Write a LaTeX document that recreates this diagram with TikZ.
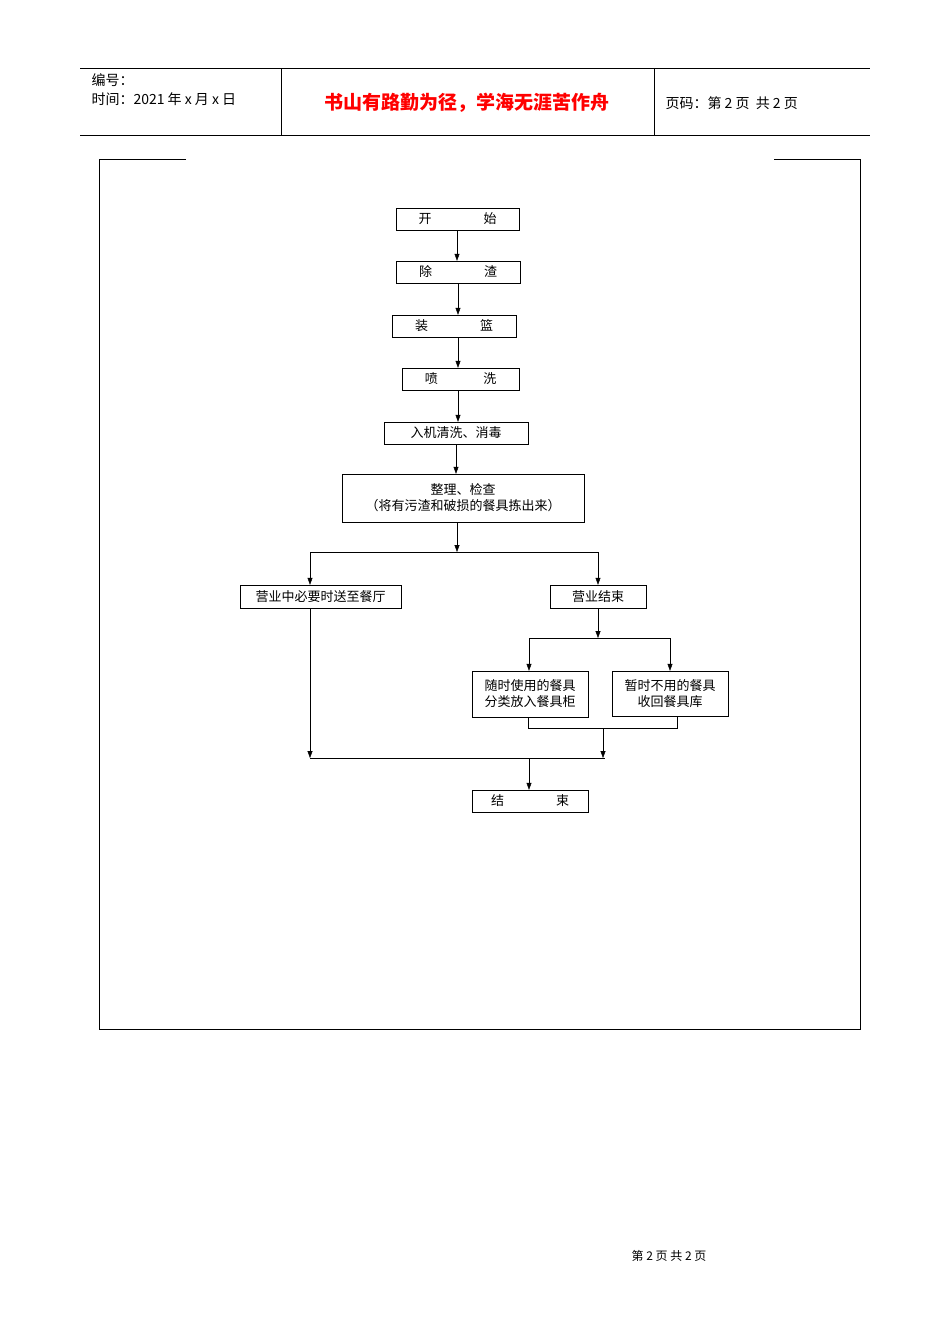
\documentclass[tikz,border=0pt]{standalone}
\usepackage{fontspec}
\setmainfont{Noto Sans CJK SC}
\usetikzlibrary{arrows.meta}
\begin{document}
\begin{tikzpicture}[x=1pt,y=-1pt,
 box/.style={draw,thin,inner sep=1pt,font=\fontsize{13}{16}\selectfont,align=center},
 ln/.style={thin},
 ar/.style={thin,-{Triangle[length=7pt,width=5pt]}}]
\useasboundingbox (0,0) rectangle (950,1344);
% header
\draw[thin] (80,68)--(870,68) (80,135)--(870,135) (281,68)--(281,135) (654,68)--(654,135);
\node[anchor=west,font=\fontsize{14}{16}\selectfont] (h1) at (88,80) {编号：};
\node[anchor=west,font=\fontsize{14}{16}\selectfont] (h2) at (88,99) {时间：2021 年 x 月 x 日};
\node[font=\fontsize{19}{22}\selectfont\bfseries,text=red] (ht) at (467,103) {书山有路勤为径，学海无涯苦作舟};
\node[anchor=west,font=\fontsize{14}{16}\selectfont] (h3) at (662,103) {页码：第 2 页\ \ 共 2 页};
% frame
\draw[thin] (186,159)--(99,159)--(99,1029)--(860,1029)--(860,159)--(774,159);
% nodes
\node[box,minimum width=123,minimum height=22] (n1) at (457.5,219) {开\hspace{4em}始};
\node[box,minimum width=124,minimum height=22] (n2) at (458,272) {除\hspace{4em}渣};
\node[box,minimum width=124,minimum height=22] (n3) at (454,326) {装\hspace{4em}篮};
\node[box,minimum width=117,minimum height=22] (n4) at (460.5,379) {喷\hspace{3.5em}洗};
\node[box,minimum width=144,minimum height=22] (n5) at (456,433) {入机清洗、消毒};
\node[box,minimum width=242,minimum height=48] (n6) at (463,498) {整理、检查\\（将有污渣和破损的餐具拣出来）};
\node[box,minimum width=161,minimum height=23] (n7) at (320.5,596.5) {营业中必要时送至餐厅};
\node[box,minimum width=96,minimum height=23] (n8) at (598,596.5) {营业结束};
\node[box,minimum width=116,minimum height=46] (n9) at (530,694) {随时使用的餐具\\分类放入餐具柜};
\node[box,minimum width=116,minimum height=45] (n10) at (670,693.5) {暂时不用的餐具\\收回餐具库};
\node[box,minimum width=116,minimum height=22] (n11) at (530,801) {结\hspace{4em}束};
% coordinates
\coordinate (a1) at (457,552);
\coordinate (a2) at (310,552);
\coordinate (a3) at (598,552);
\coordinate (b1) at (598,638);
\coordinate (b2) at (529,638);
\coordinate (b3) at (670,638);
\coordinate (c1) at (528,728);
\coordinate (c2) at (677,728);
\coordinate (c3) at (603,728);
\coordinate (c4) at (603,758);
\coordinate (d1) at (310,758);
\coordinate (d3) at (529,758);
% connectors
\draw[ar] (n1.south -| 457,0) -- (n2.north -| 457,0);
\draw[ar] (n2.south -| 458,0) -- (n3.north -| 458,0);
\draw[ar] (n3.south -| 458,0) -- (n4.north -| 458,0);
\draw[ar] (n4.south -| 458,0) -- (n5.north -| 458,0);
\draw[ar] (n5.south -| 456,0) -- (n6.north -| 456,0);
\draw[ar] (n6.south -| 457,0) -- (a1);
\draw[ln] (a2) -- (a3);
\draw[ar] (a2) -- (n7.north -| a2);
\draw[ar] (a3) -- (n8.north -| a3);
\draw[ar] (n8.south) -- (b1);
\draw[ln] (b2) -- (b3);
\draw[ar] (b2) -- (n9.north -| b2);
\draw[ar] (b3) -- (n10.north -| b3);
\draw[ln] (n9.south -| c1) -- (c1) -- (c2) -- (n10.south -| c2);
\draw[ar] (c3) -- (c4);
\draw[ar] (n7.south -| d1) -- (d1);
\draw[ln] (d1) -- (605,758);
\draw[ar] (d3) -- (n11.north -| d3);
% footer
\node[font=\fontsize{12}{14}\selectfont] (f) at (669,1256) {第 2 页 共 2 页};
\end{tikzpicture}
\end{document}
